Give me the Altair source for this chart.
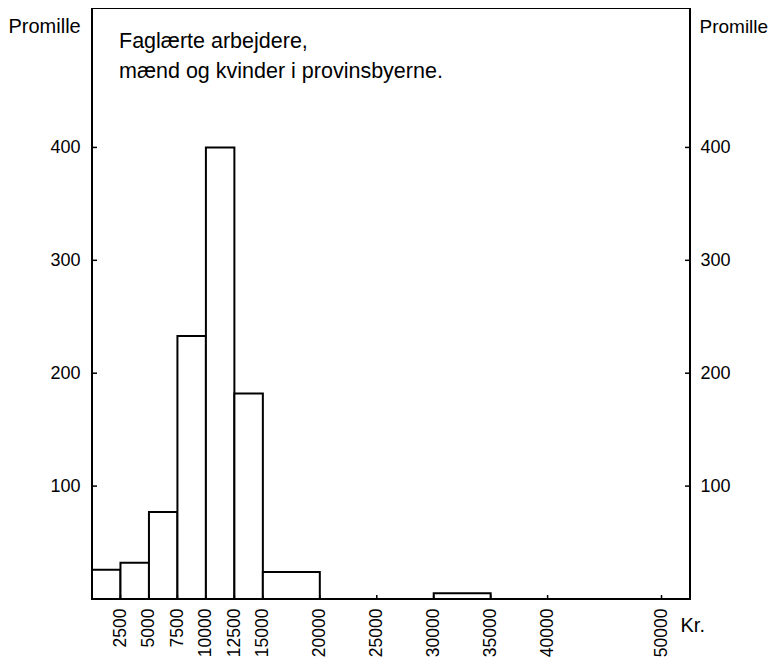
import altair as alt
import pandas as pd

# Histogram data (Promille per income interval, Kr.)
bin_start = [0, 2500, 5000, 7500, 10000, 12500, 15000, 30000]
bin_end = [2500, 5000, 7500, 10000, 12500, 15000, 20000, 35000]
promille = [26, 32, 77, 233, 400, 182, 24, 5]

x_ticks = [2500, 5000, 7500, 10000, 12500, 15000, 20000, 25000, 30000, 35000, 40000, 50000]
y_ticks = [100, 200, 300, 400]
title_lines = ["Faglærte arbejdere,", "mænd og kvinder i provinsbyerne."]

FONT = "Liberation Sans"
W, H = 598, 591

bars_df = pd.DataFrame({"start": bin_start, "end": bin_end, "val": promille})
ytick_df = pd.DataFrame({"v": y_ticks})
xtick_df = pd.DataFrame({"x": x_ticks})
title_df = pd.DataFrame({"t": ["\n".join(title_lines)]})

xscale = alt.Scale(domain=[0, 52500], nice=False, zero=False)
yscale = alt.Scale(domain=[0, 523.5], nice=False)

x_axis = alt.Axis(values=x_ticks, format="d", labelAngle=270, tickSize=0, domain=False, grid=False,
                  labelPadding=9, labelFontSize=17.5, labelFont=FONT, labelColor="black",
                  title="Kr.", titleAngle=0, titleX=588, titleY=32, titleAlign="left",
                  titleBaseline="alphabetic", titleFontSize=20, titleFont=FONT,
                  titleFontWeight="normal", titleColor="black", labelFlush=False, labelOverlap=False)

bars = alt.Chart(bars_df).mark_bar(fill="white", stroke="black", strokeWidth=2).encode(
    x=alt.X("start:Q", scale=xscale, axis=x_axis),
    x2="end:Q",
    y=alt.Y("val:Q", scale=yscale,
            axis=alt.Axis(orient="left", values=y_ticks, ticks=False, domain=False, grid=False,
                          labelPadding=12, labelFontSize=18, labelFont=FONT, labelColor="black",
                          title="Promille", titleAngle=0, titleX=-84, titleY=24,
                          titleAlign="left", titleBaseline="alphabetic", titleFontSize=20,
                          titleFont=FONT, titleFontWeight="normal", titleColor="black")),
    y2=alt.datum(0),
)

left_ticks = alt.Chart(ytick_df).mark_rule(color="black", strokeWidth=1.5).encode(
    y=alt.Y("v:Q", scale=yscale,
            axis=alt.Axis(orient="right", values=y_ticks, ticks=False, domain=False, grid=False,
                          labelPadding=10, labelFontSize=18, labelFont=FONT, labelColor="black",
                          title="Promille", titleAngle=0, titleX=9, titleY=24,
                          titleAlign="left", titleBaseline="alphabetic", titleFontSize=19,
                          titleFont=FONT, titleFontWeight="normal", titleColor="black")),
    x=alt.value(0), x2=alt.value(5),
)
right_ticks = alt.Chart(ytick_df).mark_rule(color="black", strokeWidth=1.5).encode(
    y=alt.Y("v:Q", scale=yscale, axis=None),
    x=alt.value(W - 5), x2=alt.value(W),
)
bottom_ticks = alt.Chart(xtick_df).mark_rule(color="black", strokeWidth=1.5).encode(
    x=alt.X("x:Q", scale=xscale),
    y=alt.value(H), y2=alt.value(H - 4),
)

title_text = alt.Chart(title_df).mark_text(
    align="left", baseline="alphabetic", fontSize=21.5, font=FONT, color="black",
    lineBreak="\n", lineHeight=30
).encode(text="t:N", x=alt.value(27), y=alt.value(40))

chart = alt.layer(bars, left_ticks, right_ticks, bottom_ticks, title_text).resolve_axis(
    y="independent"
).properties(
    width=W, height=H,
    autosize=alt.AutoSizeParams(type="none"),
    padding={"left": 84, "top": 0, "right": 80, "bottom": 58},
).configure(background="white", view=alt.ViewConfig(stroke="black", strokeWidth=2))

chart.save("out.html", embed_options={"renderer": "svg", "actions": False})
